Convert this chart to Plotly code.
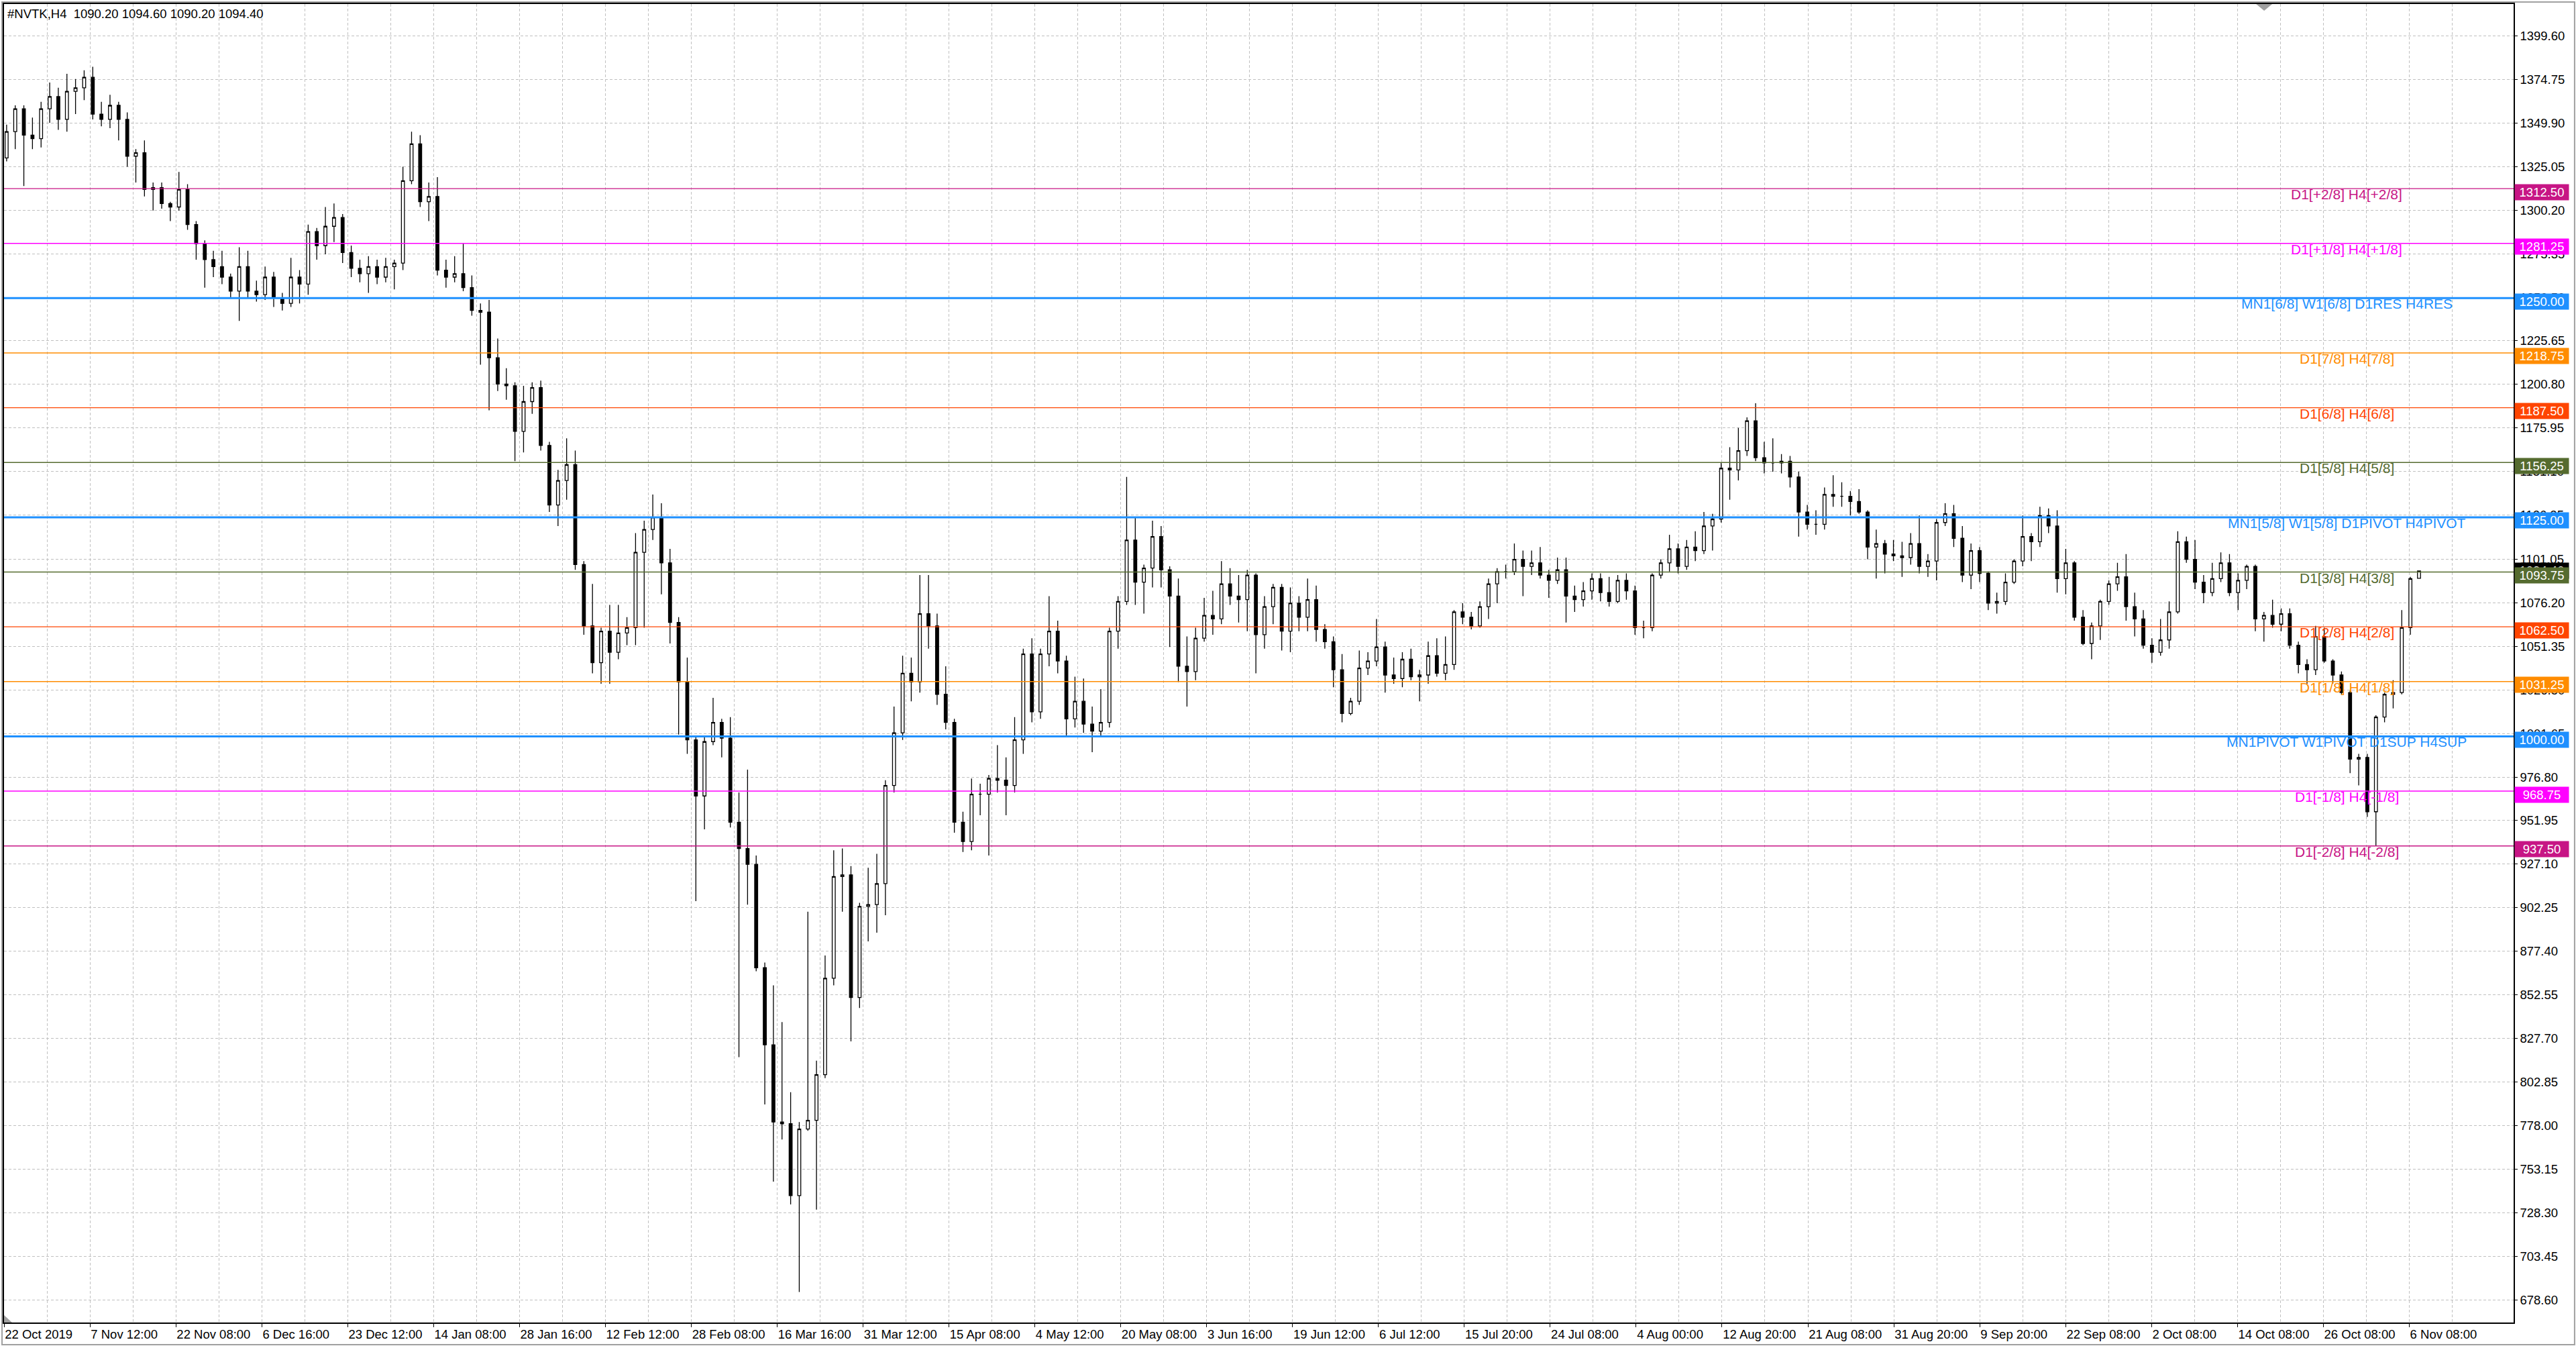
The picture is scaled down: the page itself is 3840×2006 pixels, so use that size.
import plotly.graph_objects as go

# #NVTK H4 candles (each candle here stands for ~3-4 terminal bars)
opens = [
    1330, 1345, 1358, 1343, 1341, 1358, 1365, 1352, 1368, 1370,
    1376, 1355, 1352, 1360, 1352, 1331, 1333, 1312, 1313, 1304,
    1302, 1312, 1292, 1281, 1272, 1268, 1262, 1254, 1268, 1254,
    1252, 1262, 1250, 1247, 1262, 1258, 1288, 1280, 1291, 1296,
    1276, 1267, 1264, 1268, 1262, 1268, 1270, 1317, 1338, 1305,
    1308, 1266, 1262, 1264, 1256, 1243, 1242, 1216, 1201, 1200,
    1174, 1191, 1199, 1166, 1132, 1146, 1155, 1098, 1063, 1042,
    1060, 1048, 1059, 1062, 1105, 1118, 1125, 1099, 1065, 1031,
    998, 966, 997, 1008, 999, 951, 936, 927, 868, 824,
    780, 779, 738, 776, 781, 807, 862, 920, 921, 851,
    903, 904, 916, 972, 1002, 1036, 1031, 1070, 1063, 1024,
    1008, 951, 940, 967, 967, 976, 975, 972, 998, 1047,
    1014, 1047, 1060, 1043, 1010, 1020, 1007, 1003, 1008, 1060,
    1077, 1112, 1088, 1096, 1114, 1095, 1080, 1040, 1037, 1056,
    1069, 1067, 1087, 1080, 1078, 1092, 1058, 1074, 1085, 1060,
    1076, 1068, 1078, 1061, 1054, 1038, 1013, 1020, 1039, 1043,
    1051, 1035, 1033, 1044, 1034, 1035, 1046, 1036, 1041, 1071,
    1068, 1063, 1074, 1087, 1094, 1094, 1101, 1097, 1099, 1092,
    1089, 1095, 1080, 1078, 1083, 1090, 1082, 1077, 1089, 1083,
    1062, 1062, 1092, 1099, 1107, 1097, 1108, 1106, 1120, 1124,
    1153, 1152, 1163, 1180, 1159, 1156, 1156, 1157, 1148, 1128,
    1121, 1121, 1138, 1137, 1137, 1134, 1128, 1108, 1110, 1104,
    1103, 1102, 1110, 1097, 1100, 1122, 1127, 1113, 1092, 1106,
    1093, 1076, 1077, 1088, 1100, 1114, 1111, 1126, 1120, 1090,
    1099, 1068, 1053, 1063, 1077, 1087, 1091, 1074, 1067, 1052,
    1048, 1055, 1071, 1111, 1101, 1088, 1082, 1090, 1099, 1082,
    1089, 1097, 1067, 1069, 1064, 1070, 1052, 1041, 1038, 1057,
    1043, 1035, 1025, 987, 988, 957, 1011, 1024, 1025, 1062,
    1090.2,
]
highs = [
    1349, 1360, 1360, 1353, 1362, 1373, 1370, 1378, 1375, 1380,
    1382, 1362, 1366, 1362, 1356, 1335, 1340, 1316, 1316, 1305,
    1322, 1315, 1294, 1283, 1277, 1277, 1264, 1279, 1277, 1260,
    1268, 1265, 1253, 1273, 1266, 1292, 1290, 1302, 1304, 1298,
    1280, 1272, 1274, 1272, 1273, 1272, 1325, 1345, 1343, 1316,
    1319, 1272, 1274, 1281, 1263, 1247, 1249, 1227, 1210, 1202,
    1200, 1202, 1203, 1168, 1152, 1170, 1163, 1100, 1087, 1062,
    1075, 1075, 1068, 1116, 1123, 1138, 1133, 1107, 1068, 1045,
    1000, 1000, 1022, 1010, 1011, 968, 981, 932, 871, 858,
    837, 797, 780, 900, 815, 875, 935, 936, 926, 905,
    925, 933, 975, 1017, 1046, 1045, 1092, 1092, 1070, 1040,
    1010, 957, 976, 973, 978, 995, 988, 1011, 1050, 1056,
    1050, 1080, 1066, 1046, 1034, 1033, 1017, 1027, 1062, 1080,
    1148, 1125, 1098, 1123, 1120, 1097, 1090, 1057, 1062, 1079,
    1083, 1100, 1096, 1092, 1095, 1093, 1080, 1087, 1087, 1085,
    1080, 1090, 1086, 1064, 1057, 1047, 1022, 1049, 1048, 1067,
    1054, 1045, 1048, 1050, 1038, 1054, 1056, 1057, 1072, 1076,
    1071, 1077, 1090, 1096, 1098, 1110, 1106, 1106, 1108, 1095,
    1102, 1102, 1086, 1088, 1093, 1093, 1091, 1092, 1093, 1086,
    1066, 1093, 1101, 1115, 1110, 1112, 1117, 1128, 1127, 1156,
    1165, 1176, 1182, 1190, 1168, 1170, 1161, 1160, 1151, 1132,
    1129, 1142, 1149, 1145, 1140, 1141, 1129, 1118, 1112, 1112,
    1111, 1116, 1126, 1104, 1124, 1133, 1132, 1120, 1110, 1108,
    1094, 1082, 1093, 1101, 1126, 1116, 1131, 1130, 1129, 1107,
    1100, 1072, 1065, 1078, 1089, 1099, 1104, 1082, 1072, 1056,
    1067, 1077, 1117, 1114, 1112, 1092, 1099, 1105, 1104, 1093,
    1098, 1098, 1071, 1078, 1073, 1073, 1054, 1044, 1063, 1062,
    1044, 1037, 1026, 990, 990, 1012, 1025, 1032, 1072, 1091,
    1094.6,
]
lows = [
    1328, 1335, 1314, 1335, 1336, 1350, 1346, 1345, 1355, 1363,
    1352, 1348, 1347, 1340, 1325, 1316, 1308, 1300, 1301, 1294,
    1300, 1289, 1272, 1256, 1262, 1258, 1250, 1237, 1250, 1248,
    1249, 1245, 1243, 1245, 1247, 1252, 1272, 1275, 1282, 1270,
    1262, 1259, 1253, 1258, 1259, 1255, 1266, 1315, 1302, 1294,
    1263, 1256, 1259, 1254, 1240, 1212, 1186, 1197, 1192, 1157,
    1162, 1184, 1163, 1128, 1120, 1135, 1095, 1058, 1036, 1030,
    1030, 1044, 1052, 1052, 1062, 1112, 1081, 1053, 1001, 990,
    906, 947, 995, 988, 948, 817, 904, 866, 790, 746,
    770, 733, 683, 775, 730, 805, 858, 900, 826, 845,
    883, 888, 898, 968, 998, 1020, 1025, 1050, 1018, 1004,
    945, 934, 935, 955, 932, 968, 955, 968, 990, 1008,
    1010, 1040, 1036, 1000, 1005, 1002, 991, 1000, 1005, 1050,
    1075, 1075, 1070, 1085, 1085, 1051, 1031, 1017, 1032, 1054,
    1058, 1064, 1075, 1065, 1060, 1036, 1050, 1064, 1049, 1048,
    1060, 1060, 1054, 1050, 1028, 1008, 1012, 1018, 1035, 1040,
    1025, 1030, 1028, 1032, 1020, 1030, 1034, 1032, 1038, 1064,
    1061, 1062, 1067, 1076, 1090, 1092, 1080, 1092, 1090, 1079,
    1087, 1065, 1071, 1074, 1078, 1077, 1074, 1076, 1078, 1058,
    1056, 1060, 1090, 1094, 1093, 1095, 1100, 1104, 1106, 1122,
    1135, 1146, 1160, 1157, 1150, 1151, 1150, 1142, 1114, 1118,
    1115, 1118, 1131, 1131, 1126, 1127, 1101, 1090, 1093, 1100,
    1091, 1098, 1093, 1091, 1089, 1120, 1108, 1088, 1084, 1088,
    1072, 1070, 1075, 1087, 1097, 1100, 1108, 1116, 1082, 1081,
    1066, 1052, 1044, 1055, 1075, 1083, 1066, 1057, 1050, 1042,
    1046, 1050, 1070, 1099, 1084, 1076, 1080, 1088, 1080, 1072,
    1084, 1060, 1054, 1062, 1060, 1050, 1036, 1030, 1035, 1042,
    1030, 1024, 979, 972, 954, 937.8, 1008, 1016, 1024, 1058,
    1090.2,
]
closes = [
    1345, 1358, 1343, 1341, 1358, 1365, 1352, 1368, 1370, 1376,
    1355, 1352, 1360, 1352, 1331, 1333, 1312, 1313, 1304, 1302,
    1312, 1292, 1281, 1272, 1268, 1262, 1254, 1268, 1254, 1252,
    1262, 1250, 1247, 1262, 1258, 1288, 1280, 1291, 1296, 1276,
    1267, 1264, 1268, 1262, 1268, 1270, 1317, 1338, 1305, 1308,
    1266, 1262, 1264, 1256, 1243, 1242, 1216, 1201, 1200, 1174,
    1191, 1199, 1166, 1132, 1146, 1155, 1098, 1063, 1042, 1060,
    1048, 1059, 1062, 1105, 1118, 1125, 1099, 1065, 1031, 998,
    966, 997, 1008, 999, 951, 936, 927, 868, 824, 780,
    779, 738, 776, 781, 807, 862, 920, 921, 851, 903,
    904, 916, 972, 1002, 1036, 1031, 1070, 1063, 1024, 1008,
    951, 940, 967, 967, 976, 975, 972, 998, 1047, 1014,
    1047, 1060, 1043, 1010, 1020, 1007, 1003, 1008, 1060, 1077,
    1112, 1088, 1096, 1114, 1095, 1080, 1040, 1037, 1056, 1069,
    1067, 1087, 1080, 1078, 1092, 1058, 1074, 1085, 1060, 1076,
    1068, 1078, 1061, 1054, 1038, 1013, 1020, 1039, 1043, 1051,
    1035, 1033, 1044, 1034, 1035, 1046, 1036, 1041, 1071, 1068,
    1063, 1074, 1087, 1094, 1094, 1101, 1097, 1099, 1092, 1089,
    1095, 1080, 1078, 1083, 1090, 1082, 1077, 1089, 1083, 1062,
    1062, 1092, 1099, 1107, 1097, 1108, 1106, 1120, 1124, 1153,
    1152, 1163, 1180, 1159, 1156, 1156, 1157, 1148, 1128, 1121,
    1121, 1138, 1137, 1137, 1134, 1128, 1108, 1110, 1104, 1103,
    1102, 1110, 1097, 1100, 1122, 1127, 1113, 1092, 1106, 1093,
    1076, 1077, 1088, 1100, 1114, 1111, 1126, 1120, 1090, 1099,
    1068, 1053, 1063, 1077, 1087, 1091, 1074, 1067, 1052, 1048,
    1055, 1071, 1111, 1101, 1088, 1082, 1090, 1099, 1082, 1089,
    1097, 1067, 1069, 1064, 1070, 1052, 1041, 1038, 1057, 1043,
    1035, 1025, 987, 988, 957, 1011, 1024, 1025, 1062, 1090,
    1094.4,
]

header = "#NVTK,H4  1090.20 1094.60 1090.20 1094.40"
last_price = 1094.40

# Murrey math levels
levels = [1312.50, 1281.25, 1250.00, 1218.75, 1187.50, 1156.25, 1125.00,
          1093.75, 1062.50, 1031.25, 1000.00, 968.75, 937.50]
level_names = ["D1[+2/8] H4[+2/8]", "D1[+1/8] H4[+1/8]", "MN1[6/8] W1[6/8] D1RES H4RES",
               "D1[7/8] H4[7/8]", "D1[6/8] H4[6/8]", "D1[5/8] H4[5/8]",
               "MN1[5/8] W1[5/8] D1PIVOT H4PIVOT", "D1[3/8] H4[3/8]", "D1[2/8] H4[2/8]",
               "D1[1/8] H4[1/8]", "MN1PIVOT W1PIVOT D1SUP H4SUP", "D1[-1/8] H4[-1/8]",
               "D1[-2/8] H4[-2/8]"]
level_colors = ["#C71585", "#FF00FF", "#1E90FF", "#FF8C00", "#FF4500", "#556B2F", "#1E90FF",
                "#556B2F", "#FF4500", "#FF8C00", "#1E90FF", "#FF00FF", "#C71585"]

price_ticks = [1399.60, 1374.75, 1349.90, 1325.05, 1300.20, 1275.35, 1250.50, 1225.65,
               1200.80, 1175.95, 1151.10, 1126.25, 1101.05, 1076.20, 1051.35, 1026.50,
               1001.65, 976.80, 951.95, 927.10, 902.25, 877.40, 852.55, 827.70, 802.85,
               778.00, 753.15, 728.30, 703.45, 678.60]

date_labels = ["22 Oct 2019", "7 Nov 12:00", "22 Nov 08:00", "6 Dec 16:00", "23 Dec 12:00",
               "14 Jan 08:00", "28 Jan 16:00", "12 Feb 12:00", "28 Feb 08:00", "16 Mar 16:00",
               "31 Mar 12:00", "15 Apr 08:00", "4 May 12:00", "20 May 08:00", "3 Jun 16:00",
               "19 Jun 12:00", "6 Jul 12:00", "15 Jul 20:00", "24 Jul 08:00", "4 Aug 00:00",
               "12 Aug 20:00", "21 Aug 08:00", "31 Aug 20:00", "9 Sep 20:00", "22 Sep 08:00",
               "2 Oct 08:00", "14 Oct 08:00", "26 Oct 08:00", "6 Nov 08:00"]

GRID = "#C0C0C0"
FONT = "Liberation Sans, Arial, sans-serif"

x = list(range(len(closes)))
x0, x1 = -0.3, 290.98            # visible bar range (incl. right shift)
step = 4.985                     # grid spacing in bars
label_pos = [x0 + 2 * step * k for k in range(len(date_labels))]
minor_pos = [x0 + step * (2 * k + 1) for k in range(len(date_labels))]

fig = go.Figure()
fig.add_trace(go.Candlestick(
    x=x, open=opens, high=highs, low=lows, close=closes,
    increasing=dict(line=dict(color="black", width=1.3), fillcolor="white"),
    decreasing=dict(line=dict(color="black", width=1.3), fillcolor="black"),
    whiskerwidth=0, hoverinfo="skip",
))

# level lines + captions
for lv, name, col in zip(levels, level_names, level_colors):
    w = 3 if col == "#1E90FF" else 1.4
    fig.add_shape(type="line", xref="paper", x0=0, x1=1, yref="y", y0=lv, y1=lv,
                  line=dict(color=col, width=w), layer="above")
    fig.add_annotation(xref="paper", x=0.9335, yref="y", y=lv, text=name, showarrow=False,
                       xanchor="center", yanchor="top", yshift=5,
                       font=dict(family=FONT, size=21, color=col))

# price boxes on the right axis (current price first, so the level boxes cover it)
fig.add_annotation(xref="paper", x=1, yref="y", y=last_price, text=f"{last_price:.2f}",
                   showarrow=False, xanchor="left", xshift=1, bgcolor="black",
                   font=dict(family=FONT, size=18.5, color="white"),
                   width=74, height=17, borderpad=3)
for lv, col in zip(levels, level_colors):
    fig.add_annotation(xref="paper", x=1, yref="y", y=lv, text=f"{lv:.2f}",
                       showarrow=False, xanchor="left", xshift=1, yshift=-5, bgcolor=col,
                       font=dict(family=FONT, size=18.5, color="white"),
                       width=74, height=17, borderpad=3)

fig.add_annotation(xref="paper", x=0, yref="paper", y=1, text=header, showarrow=False,
                   xanchor="left", yanchor="top", xshift=3, yshift=-2,
                   font=dict(family=FONT, size=18.5, color="black"))

# window frame and the two little terminal markers
fig.add_shape(type="rect", xref="paper", yref="paper", x0=-0.0008, x1=1.0243,
              y0=-0.0168, y1=1.0015, line=dict(color="#A0A0A0", width=2), layer="above")
fig.add_shape(type="path", xref="paper", yref="paper",
              path="M 0.8974,1 L 0.9038,1 L 0.9006,0.9949 Z",
              fillcolor="#A0A0A0", line=dict(width=0))
fig.add_shape(type="path", xref="paper", yref="paper",
              path="M 0,0.0056 L 0,0 L 0.0032,0 Z",
              fillcolor="#A0A0A0", line=dict(width=0))

fig.update_layout(
    width=3840, height=2006,
    margin=dict(l=4, r=93, t=4, b=35, pad=0),
    paper_bgcolor="white", plot_bgcolor="white",
    showlegend=False, boxgap=0.5,
    font=dict(family=FONT, size=18.5, color="black"),
    xaxis=dict(
        range=[x0, x1], rangeslider=dict(visible=False),
        tickmode="array", tickvals=label_pos, ticktext=date_labels,
        ticks="outside", ticklen=5, tickcolor="black",
        ticklabelposition="outside right",
        showgrid=True, gridcolor=GRID, griddash="4px,3px", gridwidth=1,
        minor=dict(tickvals=minor_pos, showgrid=True, gridcolor=GRID,
                   griddash="4px,3px", ticks=""),
        showline=True, linecolor="black", linewidth=1.5, mirror=True, zeroline=False,
    ),
    yaxis=dict(
        side="right", range=[665.6, 1417.8],
        tickmode="array", tickvals=price_ticks,
        ticktext=[f"{v:.2f}" for v in price_ticks],
        ticks="outside", ticklen=4, tickcolor="black",
        showgrid=True, gridcolor=GRID, griddash="4px,3px", gridwidth=1,
        showline=True, linecolor="black", linewidth=1.5, mirror=True, zeroline=False,
    ),
)

fig.write_html("out.html", config={"displayModeBar": False},
               post_script="document.body.style.margin='0';document.body.style.overflow='hidden';")
